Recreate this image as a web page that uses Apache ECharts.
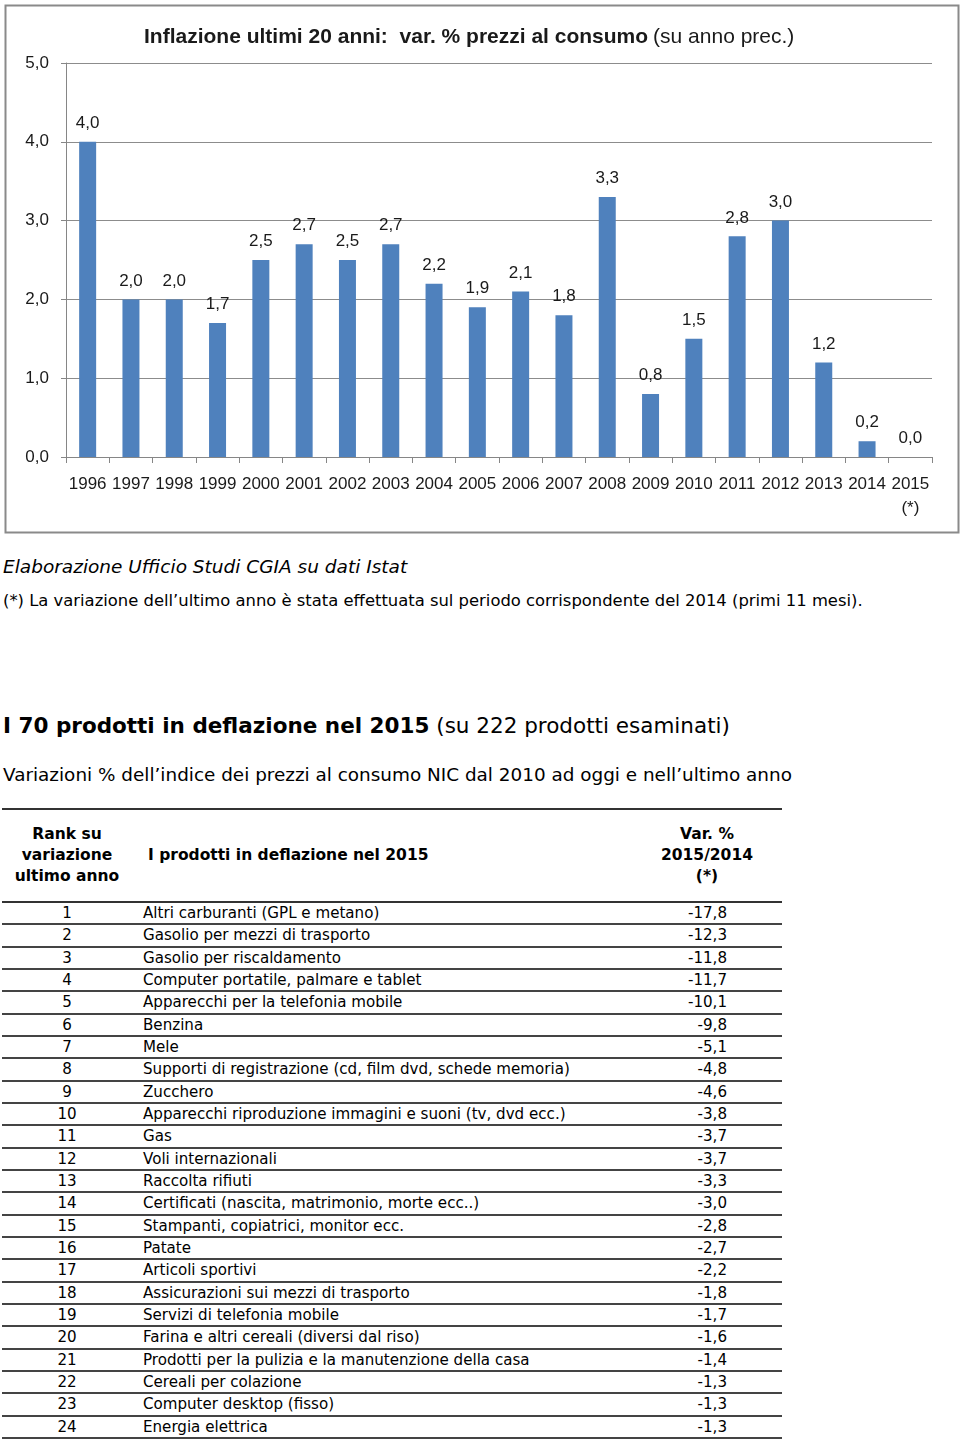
<!DOCTYPE html>
<html>
<head>
<meta charset="utf-8">
<script src="https://cdn.jsdelivr.net/npm/echarts@6/dist/echarts.min.js"></script>
<style>
  html, body { margin: 0; padding: 0; background: #fff; }
  body { width: 960px; height: 1440px; position: relative; overflow: hidden; font-family: "DejaVu Sans", Verdana, sans-serif; color: #000; }
  #chart { position: absolute; left: 0; top: 0; width: 960px; height: 540px; }
  .txt { position: absolute; left: 3px; white-space: nowrap; }
  #src { top: 556px; font-size: 18.5px; font-style: italic; }
  #note { top: 591px; font-size: 16.4px; }
  #head { top: 713px; font-size: 21.5px; }
  #sub { top: 764px; font-size: 18.4px; }
  #tbl { position: absolute; left: 2px; top: 808px; width: 780px; border-collapse: collapse; font-size: 15.1px; table-layout: fixed; }
  #tbl th { font-weight: bold; font-size: 15.5px; border-top: 2px solid #333; border-bottom: 2px solid #333; height: 91px; padding: 0; line-height: 21px; vertical-align: middle; }
  #tbl td { height: 20.33px; border-bottom: 2px solid #444; padding: 0; line-height: 20px; }
  .c1 { width: 130px; text-align: center; }
  .c2 { text-align: left; padding-left: 11px !important; }
  .c3 { width: 150px; text-align: right; padding-right: 55px !important; }
  th.c3 { text-align: center; padding-right: 0 !important; }
  th.c2 { padding-left: 16px !important; }
</style>
</head>
<body>
<div id="chart"></div>
<div class="txt" id="src">Elaborazione Ufficio Studi CGIA su dati Istat</div>
<div class="txt" id="note">(*) La variazione dell’ultimo anno è stata effettuata sul periodo corrispondente del 2014 (primi 11 mesi).</div>
<div class="txt" id="head"><b>I 70 prodotti in deflazione nel 2015</b> (su 222 prodotti esaminati)</div>
<div class="txt" id="sub">Variazioni % dell’indice dei prezzi al consumo NIC dal 2010 ad oggi e nell’ultimo anno</div>
<table id="tbl">
  <colgroup><col style="width:130px"><col><col style="width:150px"></colgroup>
  <thead><tr>
    <th class="c1">Rank su<br>variazione<br>ultimo anno</th>
    <th class="c2">I prodotti in deflazione nel 2015</th>
    <th class="c3">Var. %<br>2015/2014<br>(*)</th>
  </tr></thead>
  <tbody id="tbody"></tbody>
</table>
<script>
// ---- Chart data ----
const years = ['1996','1997','1998','1999','2000','2001','2002','2003','2004','2005',
               '2006','2007','2008','2009','2010','2011','2012','2013','2014','2015\n(*)'];
const inflation = [4.0, 2.0, 2.0, 1.7, 2.5, 2.7, 2.5, 2.7, 2.2, 1.9,
                   2.1, 1.8, 3.3, 0.8, 1.5, 2.8, 3.0, 1.2, 0.2, 0.0];
const yTicks = [0, 1, 2, 3, 4, 5];

// ---- Table data ----
const ranks = [1,2,3,4,5,6,7,8,9,10,11,12,13,14,15,16,17,18,19,20,21,22,23,24];
const products = [
  'Altri carburanti (GPL e metano)',
  'Gasolio per mezzi di trasporto',
  'Gasolio per riscaldamento',
  'Computer portatile, palmare e tablet',
  'Apparecchi per la telefonia mobile',
  'Benzina',
  'Mele',
  'Supporti di registrazione (cd, film dvd, schede memoria)',
  'Zucchero',
  'Apparecchi riproduzione immagini e suoni (tv, dvd ecc.)',
  'Gas',
  'Voli internazionali',
  'Raccolta rifiuti',
  'Certificati (nascita, matrimonio, morte ecc..)',
  'Stampanti, copiatrici, monitor ecc.',
  'Patate',
  'Articoli sportivi',
  'Assicurazioni sui mezzi di trasporto',
  'Servizi di telefonia mobile',
  'Farina e altri cereali (diversi dal riso)',
  'Prodotti per la pulizia e la manutenzione della casa',
  'Cereali per colazione',
  'Computer desktop (fisso)',
  'Energia elettrica'
];
const variations = [-17.8,-12.3,-11.8,-11.7,-10.1,-9.8,-5.1,-4.8,-4.6,-3.8,-3.7,-3.7,
                    -3.3,-3.0,-2.8,-2.7,-2.2,-1.8,-1.7,-1.6,-1.4,-1.3,-1.3,-1.3];

const fmt = v => v.toFixed(1).replace('.', ',');

// build table
const tb = document.getElementById('tbody');
ranks.forEach((r, i) => {
  const tr = document.createElement('tr');
  const a = document.createElement('td'); a.className = 'c1'; a.textContent = r;
  const b = document.createElement('td'); b.className = 'c2'; b.textContent = products[i];
  const c = document.createElement('td'); c.className = 'c3'; c.textContent = fmt(variations[i]);
  tr.appendChild(a); tr.appendChild(b); tr.appendChild(c);
  tb.appendChild(tr);
});

const chartFont = '"Liberation Sans", Arial, sans-serif';
const chart = echarts.init(document.getElementById('chart'), null, { renderer: 'canvas' });
chart.setOption({
  animation: false,
  backgroundColor: '#fff',
  textStyle: { fontFamily: chartFont },
  title: {
    text: '{b|Inflazione ultimi 20 anni:  var. % prezzi al consumo} {n|(su anno prec.)}',
    left: 139, top: 22,
    textStyle: {
      rich: {
        b: { fontSize: 21, fontWeight: 'bold', color: '#1a1a1a', fontFamily: chartFont },
        n: { fontSize: 21, fontWeight: 'normal', color: '#1a1a1a', fontFamily: chartFont }
      }
    }
  },
  graphic: [{
    type: 'rect', left: 3, top: 3,
    shape: { width: 953, height: 527 },
    style: { fill: 'none', stroke: '#8a8a8a', lineWidth: 2 },
    silent: true
  }],
  grid: { left: 66, right: 28, top: 63, bottom: 83, containLabel: false },
  xAxis: {
    type: 'category',
    data: years,
    axisLine: { lineStyle: { color: '#868686', width: 1 } },
    axisTick: { show: true, length: 6, alignWithLabel: false, lineStyle: { color: '#868686' } },
    axisLabel: { fontSize: 17, color: '#1a1a1a', margin: 15, lineHeight: 24, interval: 0, fontFamily: chartFont }
  },
  yAxis: {
    type: 'value',
    min: yTicks[0], max: yTicks[yTicks.length - 1], interval: 1,
    axisLine: { show: true, lineStyle: { color: '#868686', width: 1 } },
    axisTick: { show: true, length: 5, lineStyle: { color: '#868686' } },
    splitLine: { lineStyle: { color: '#8c8c8c', width: 1 } },
    axisLabel: { fontSize: 17, color: '#1a1a1a', margin: 17, formatter: v => fmt(v), fontFamily: chartFont }
  },
  series: [{
    type: 'bar',
    data: inflation,
    barWidth: 17,
    itemStyle: { color: '#4F81BD' },
    label: {
      show: true, position: 'top', distance: 10,
      fontSize: 17, color: '#1a1a1a', fontFamily: chartFont,
      formatter: p => fmt(p.value)
    }
  }]
});
</script>
</body>
</html>
